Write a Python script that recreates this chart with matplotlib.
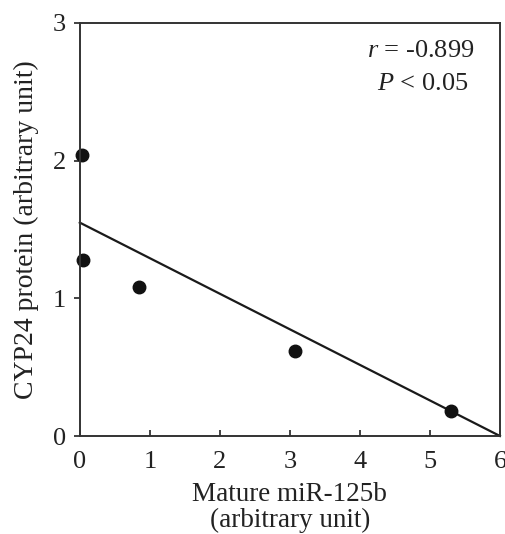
import matplotlib
matplotlib.use("Agg")
from matplotlib import pyplot as plt

plt.rcParams["font.family"] = "Liberation Serif"
plt.rcParams["mathtext.fontset"] = "custom"
plt.rcParams["mathtext.rm"] = "Liberation Serif"
plt.rcParams["mathtext.it"] = "Liberation Serif:italic"

# points
mir125b = [0.03, 0.04, 0.84, 3.07, 5.30]
cyp24 = [2.04, 1.28, 1.08, 0.62, 0.18]

# regression line ends
fit_x = [0, 6]
fit_y = [1.55, 0.0]

xticks = [0, 1, 2, 3, 4, 5, 6]
yticks = [0, 1, 2, 3]

fig = plt.figure(figsize=(5.05, 5.34), dpi=100)
ax = fig.add_axes([0.158, 0.1835, 0.832, 0.7735])

ax.plot(fit_x, fit_y, color="#1a1a1a", lw=1.6, clip_on=False)
ax.plot(mir125b, cyp24, "o", color="#111111", ms=9, clip_on=False)

ax.set_xlim(0, 6)
ax.set_ylim(0, 3)
ax.set_xticks(xticks)
ax.set_yticks(yticks)
ax.tick_params(axis="x", direction="in", length=4, width=1.2, labelsize=19, pad=11, colors="#222222")
ax.tick_params(axis="y", direction="out", length=4, width=1.2, labelsize=19, pad=6, colors="#222222")
for s in ax.spines.values():
    s.set_linewidth(1.4)
    s.set_color("#333333")

ax.set_xlabel("Mature miR-125b\n(arbitrary unit)", fontsize=19.5, color="#222222", labelpad=6, linespacing=1.05)
ax.set_ylabel("CYP24 protein (arbitrary unit)", fontsize=20, color="#222222", labelpad=10)

ax.text(0.94, 0.932, "$r$ = -0.899", transform=ax.transAxes, ha="right", va="center",
        fontsize=19, color="#222222")
ax.text(0.925, 0.852, "$P$ < 0.05", transform=ax.transAxes, ha="right", va="center",
        fontsize=19, color="#222222")

fig.savefig("out.png", dpi=100)
